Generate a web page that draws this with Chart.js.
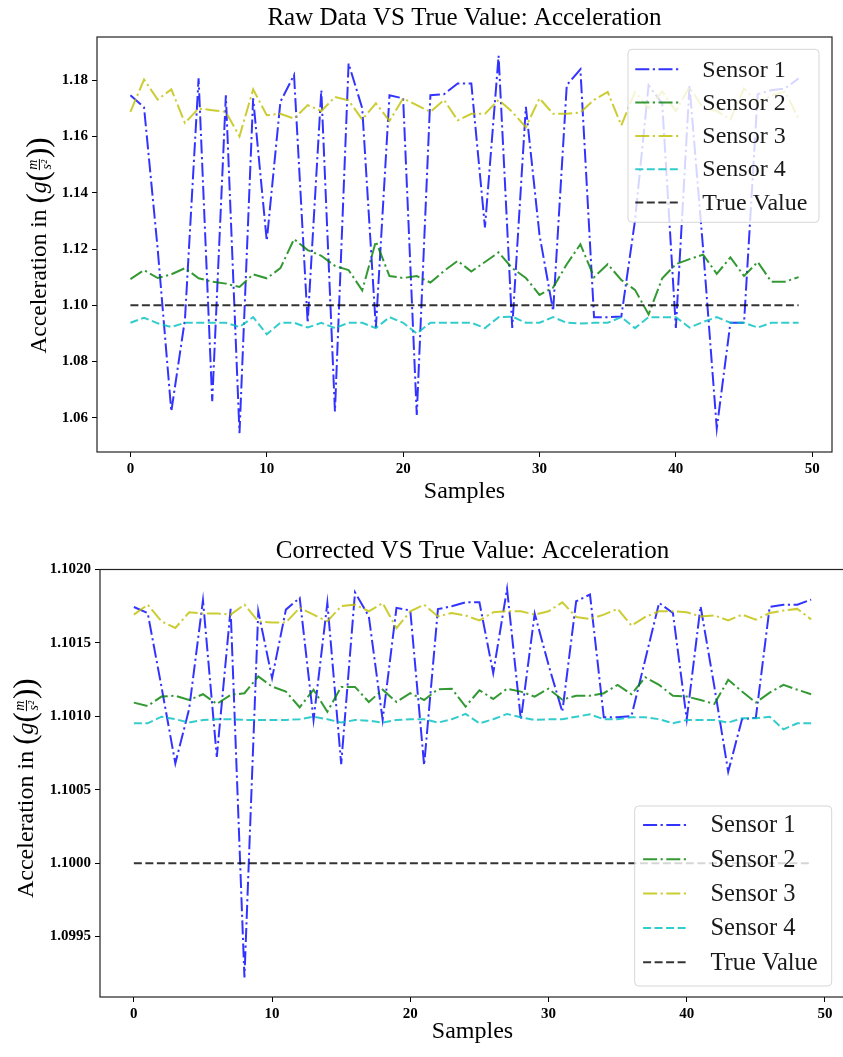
<!DOCTYPE html>
<html>
<head>
<meta charset="utf-8">
<script src="https://cdn.jsdelivr.net/npm/chart.js@4.4.1/dist/chart.umd.min.js"></script>
<style>
  html, body { margin: 0; padding: 0; background: #fff; overflow: hidden; width: 843px; height: 1057px; }
  #raw  { position: absolute; left: 0; top: 0; }
  #corr { position: absolute; left: 0; top: 520px; }
</style>
</head>
<body>
<canvas id="raw" width="843" height="515"></canvas>
<canvas id="corr" width="852" height="537"></canvas>
<script>
// ---- data -------------------------------------------------------------
const samples = [0,1,2,3,4,5,6,7,8,9,10,11,12,13,14,15,16,17,18,19,20,21,22,23,24,
                 25,26,27,28,29,30,31,32,33,34,35,36,37,38,39,40,41,42,43,44,45,46,47,48,49];
const xTicks = [0, 10, 20, 30, 40, 50];
const rawTicks = [1.06, 1.08, 1.10, 1.12, 1.14, 1.16, 1.18];
const corrTicks = [1.0995, 1.1000, 1.1005, 1.1010, 1.1015, 1.1020];
const seriesNames = ['Sensor 1', 'Sensor 2', 'Sensor 3', 'Sensor 4', 'True Value'];
const trueValue = 1.10;

const rawSensor1 = [1.1746, 1.1703, 1.1200, 1.0623, 1.0950, 1.1806, 1.0659, 1.1746, 1.0546, 1.1735,
                    1.1229, 1.1723, 1.1818, 1.0938, 1.1764, 1.0623, 1.1859, 1.1700, 1.0920, 1.1746,
                    1.1735, 1.0611, 1.1746, 1.1750, 1.1788, 1.1788, 1.1277, 1.1886, 1.0920, 1.1705,
                    1.1250, 1.0980, 1.1782, 1.1838, 1.0958, 1.0958, 1.0960, 1.1300, 1.1782, 1.1717,
                    1.0920, 1.1780, 1.1200, 1.0563, 1.0938, 1.0938, 1.1750, 1.1764, 1.1770, 1.1806];
const rawSensor2 = [1.1093, 1.1125, 1.1097, 1.1110, 1.1132, 1.1096, 1.1084, 1.1077, 1.1065, 1.1110,
                    1.1096, 1.1132, 1.1235, 1.1196, 1.1176, 1.1140, 1.1125, 1.1053, 1.1227, 1.1104,
                    1.1097, 1.1104, 1.1081, 1.1122, 1.1158, 1.1120, 1.1154, 1.1188, 1.1132, 1.1097,
                    1.1037, 1.1063, 1.1146, 1.1217, 1.1100, 1.1146, 1.1090, 1.1055, 1.0968, 1.1096,
                    1.1146, 1.1164, 1.1180, 1.1112, 1.1170, 1.1104, 1.1154, 1.1084, 1.1084, 1.1100];
const rawSensor3 = [1.1687, 1.1802, 1.1731, 1.1767, 1.1648, 1.1699, 1.1693, 1.1687, 1.1600, 1.1767,
                    1.1675, 1.1680, 1.1663, 1.1711, 1.1690, 1.1740, 1.1728, 1.1660, 1.1717, 1.1655,
                    1.1735, 1.1711, 1.1687, 1.1730, 1.1657, 1.1680, 1.1680, 1.1730, 1.1687, 1.1633,
                    1.1735, 1.1680, 1.1680, 1.1685, 1.1730, 1.1758, 1.1639, 1.1758, 1.1700, 1.1760,
                    1.1690, 1.1775, 1.1700, 1.1690, 1.1660, 1.1770, 1.1720, 1.1745, 1.1760, 1.1663];
const rawSensor4 = [1.0938, 1.0956, 1.0936, 1.0923, 1.0938, 1.0938, 1.0938, 1.0938, 1.0923, 1.0958,
                    1.0897, 1.0938, 1.0938, 1.0921, 1.0938, 1.0919, 1.0938, 1.0938, 1.0919, 1.0958,
                    1.0938, 1.0900, 1.0938, 1.0938, 1.0938, 1.0938, 1.0919, 1.0958, 1.0960, 1.0938,
                    1.0938, 1.0958, 1.0938, 1.0935, 1.0938, 1.0938, 1.0958, 1.0919, 1.0958, 1.0958,
                    1.0958, 1.0921, 1.0941, 1.0958, 1.0938, 1.0938, 1.0921, 1.0938, 1.0938, 1.0938];

const corrSensor1 = [1.101744, 1.101703, 1.101200, 1.100679, 1.101050, 1.101790, 1.100724, 1.101731, 1.099221, 1.101715,
                     1.101260, 1.101726, 1.101806, 1.100975, 1.101772, 1.100674, 1.101844, 1.101680, 1.100975, 1.101738,
                     1.101720, 1.100667, 1.101730, 1.101749, 1.101776, 1.101776, 1.101294, 1.101867, 1.100975, 1.101699,
                     1.101350, 1.101031, 1.101783, 1.101829, 1.100993, 1.100993, 1.101002, 1.101387, 1.101772, 1.101703,
                     1.100980, 1.101749, 1.101200, 1.100622, 1.100980, 1.100990, 1.101745, 1.101760, 1.101760, 1.101794];
const corrSensor2 = [1.101093, 1.101070, 1.101134, 1.101140, 1.101111, 1.101150, 1.101084, 1.101145, 1.101157, 1.101271,
                     1.101202, 1.101168, 1.101061, 1.101181, 1.101031, 1.101200, 1.101200, 1.101097, 1.101181, 1.101097,
                     1.101157, 1.101111, 1.101184, 1.101188, 1.101066, 1.101177, 1.101118, 1.101188, 1.101168, 1.101134,
                     1.101188, 1.101113, 1.101140, 1.101140, 1.101157, 1.101214, 1.101150, 1.101266, 1.101214, 1.101140,
                     1.101134, 1.101111, 1.101084, 1.101248, 1.101168, 1.101093, 1.101161, 1.101214, 1.101181, 1.101150];
const corrSensor3 = [1.101692, 1.101760, 1.101646, 1.101601, 1.101708, 1.101699, 1.101700, 1.101692, 1.101760, 1.101646,
                     1.101639, 1.101639, 1.101738, 1.101692, 1.101646, 1.101750, 1.101760, 1.101715, 1.101770, 1.101600,
                     1.101715, 1.101760, 1.101680, 1.101703, 1.101686, 1.101653, 1.101708, 1.101715, 1.101715, 1.101692,
                     1.101715, 1.101776, 1.101676, 1.101662, 1.101692, 1.101731, 1.101617, 1.101676, 1.101715, 1.101715,
                     1.101708, 1.101680, 1.101686, 1.101653, 1.101692, 1.101658, 1.101703, 1.101720, 1.101731, 1.101660];
const corrSensor4 = [1.100952, 1.100952, 1.100997, 1.100980, 1.100957, 1.100975, 1.100980, 1.100980, 1.100975, 1.100975,
                     1.100975, 1.100975, 1.100980, 1.100997, 1.100980, 1.100957, 1.100975, 1.100970, 1.100957, 1.100975,
                     1.100980, 1.100980, 1.100957, 1.100980, 1.101016, 1.100952, 1.100980, 1.101016, 1.100993, 1.100975,
                     1.100980, 1.100980, 1.100997, 1.101013, 1.100980, 1.100980, 1.100993, 1.100993, 1.100980, 1.100952,
                     1.100975, 1.100975, 1.100975, 1.100957, 1.100986, 1.100986, 1.100997, 1.100911, 1.100952, 1.100952];

// ---- styling ------------------------------------------------------------
const SERIF = '"Liberation Serif", "Times New Roman", serif';
const lineStyles = [
  { color: 'rgba(0,0,255,0.8)',   dash: [14, 3.5, 2.2, 3.5] },
  { color: 'rgba(0,128,0,0.8)',   dash: [14, 3.5, 2.2, 3.5] },
  { color: 'rgba(191,191,0,0.8)', dash: [14, 3.5, 2.2, 3.5] },
  { color: 'rgba(0,191,191,0.8)', dash: [8, 3.5] },
  { color: 'rgba(0,0,0,0.8)',     dash: [8, 3.5] }
];

// title centred over the plotting area
const axesTitlePlugin = {
  id: 'axesTitle',
  afterDraw(chart, args, o) {
    const { ctx, chartArea: a } = chart;
    ctx.save();
    ctx.font = `${o.size}px ${SERIF}`;
    ctx.fillStyle = '#000';
    ctx.textAlign = 'center';
    ctx.textBaseline = 'middle';
    ctx.fillText(o.text, (a.left + a.right) / 2, o.y);
    ctx.restore();
  }
};

// axes frame on all four sides
const framePlugin = {
  id: 'frame',
  afterDatasetsDraw(chart) {
    const { ctx, chartArea: a } = chart;
    ctx.save();
    ctx.strokeStyle = '#222';
    ctx.lineWidth = 1.2;
    ctx.setLineDash([]);
    ctx.strokeRect(a.left, a.top, a.right - a.left, a.bottom - a.top);
    ctx.restore();
  }
};

// y-axis title with a stacked m / s^2 fraction
const yLabelPlugin = {
  id: 'yLabel',
  afterDraw(chart, args, o) {
    const { ctx, chartArea: a } = chart;
    const s = o.size;
    const cx = a.left - o.offset;
    const cy = (a.top + a.bottom) / 2 + (o.shiftY || 0);
    const fMain = `${s}px ${SERIF}`;
    const fBig = `${Math.round(s * 1.3)}px ${SERIF}`;
    const fIt = `italic ${s}px ${SERIF}`;
    const fSmall = `italic ${Math.round(s * 0.6)}px ${SERIF}`;
    const parts = [
      { t: 'Acceleration in ', f: fMain },
      { t: '(', f: fBig, dy: 0.08 },
      { t: 'g', f: fIt },
      { t: '(', f: fBig, dy: 0.08 },
      { frac: ['m', 's²'], f: fSmall },
      { t: ')', f: fBig, dy: 0.08 },
      { t: ')', f: fBig, dy: 0.08 }
    ];
    ctx.save();
    let total = 0;
    parts.forEach(p => {
      ctx.font = p.f;
      if (p.frac) {
        p.w = Math.max(ctx.measureText(p.frac[0]).width, ctx.measureText(p.frac[1]).width) + 3;
      } else {
        p.w = ctx.measureText(p.t).width;
      }
      total += p.w;
    });
    ctx.translate(cx, cy);
    ctx.rotate(-Math.PI / 2);
    ctx.fillStyle = '#000';
    ctx.textBaseline = 'alphabetic';
    const base = s * 0.33;
    const axis = base - s * 0.27;
    let x = -total / 2;
    parts.forEach(p => {
      ctx.font = p.f;
      if (p.frac) {
        ctx.textAlign = 'center';
        ctx.fillText(p.frac[0], x + p.w / 2, axis - 2.5);
        ctx.fillText(p.frac[1], x + p.w / 2, axis + s * 0.5);
        ctx.fillRect(x + 1, axis - 0.5, p.w - 2, 1);
        ctx.textAlign = 'left';
      } else {
        ctx.textAlign = 'left';
        ctx.fillText(p.t, x, base + (p.dy || 0) * s);
      }
      x += p.w;
    });
    ctx.restore();
  }
};

// boxed legend placed inside the axes
const legendPlugin = {
  id: 'mplLegend',
  afterDraw(chart, args, o) {
    const { ctx, chartArea: a } = chart;
    const x0 = a.right - o.right - o.width;
    const y0 = o.top != null ? a.top + o.top : a.bottom - o.bottom - o.height;
    ctx.save();
    ctx.beginPath();
    ctx.roundRect(x0, y0, o.width, o.height, 4);
    ctx.fillStyle = 'rgba(255,255,255,0.8)';
    ctx.fill();
    ctx.strokeStyle = 'rgba(204,204,204,0.8)';
    ctx.lineWidth = 1;
    ctx.stroke();
    ctx.font = `${o.fontSize}px ${SERIF}`;
    ctx.textBaseline = 'middle';
    ctx.textAlign = 'left';
    chart.data.datasets.forEach((ds, i) => {
      const y = y0 + o.firstRow + i * o.rowGap;
      ctx.beginPath();
      ctx.strokeStyle = ds.borderColor;
      ctx.lineWidth = ds.borderWidth;
      ctx.setLineDash(ds.borderDash || []);
      ctx.moveTo(x0 + o.sampleX, y);
      ctx.lineTo(x0 + o.sampleX + o.sampleLen, y);
      ctx.stroke();
      ctx.setLineDash([]);
      ctx.fillStyle = '#1a1a1a';
      ctx.fillText(ds.label, x0 + o.textX, y + 1);
    });
    ctx.restore();
  }
};

function paddedRange(values, frac) {
  const lo = Math.min(...values), hi = Math.max(...values);
  const m = (hi - lo) * frac;
  return [lo - m, hi + m];
}

function buildChart(id, cfg) {
  const all = cfg.values.flat().concat([cfg.trueValue]);
  const [yMin, yMax] = paddedRange(all, 0.05);
  const [xMin, xMax] = paddedRange(samples, 0.05);
  const series = cfg.values.concat([samples.map(() => cfg.trueValue)]);
  const datasets = series.map((vals, k) => ({
    label: seriesNames[k],
    data: samples.map((x, i) => ({ x, y: vals[i] })),
    borderColor: lineStyles[k].color,
    borderDash: lineStyles[k].dash,
    borderWidth: 2,
    borderCapStyle: 'butt',
    pointRadius: 0,
    tension: 0,
    fill: false,
    order: series.length - k
  }));
  const tickFont = { family: SERIF, size: 15, weight: 'bold' };
  const tickGrid = { display: true, drawOnChartArea: false, drawTicks: true, tickLength: 5, tickColor: '#000', tickWidth: 1 };
  return new Chart(document.getElementById(id), {
    type: 'line',
    data: { datasets },
    plugins: [framePlugin, axesTitlePlugin, yLabelPlugin, legendPlugin],
    options: {
      responsive: false,
      animation: false,
      devicePixelRatio: 1,
      events: [],
      layout: { padding: { left: 0, right: cfg.padRight, top: cfg.padTop, bottom: 0 } },
      scales: {
        x: {
          type: 'linear', min: xMin, max: xMax,
          afterBuildTicks: s => { s.ticks = xTicks.map(v => ({ value: v })); },
          afterFit: s => { s.height = cfg.xAxisHeight; },
          grid: tickGrid,
          border: { display: false },
          ticks: { font: tickFont, color: '#000', padding: 3, maxRotation: 0, autoSkip: false, callback: v => String(v) },
          title: { display: true, text: 'Samples', color: '#000', font: { family: SERIF, size: 24 }, padding: { top: 0, bottom: cfg.xTitlePad } }
        },
        y: {
          type: 'linear', min: yMin, max: yMax,
          afterBuildTicks: s => { s.ticks = cfg.yTicks.map(v => ({ value: v })); },
          afterFit: s => { s.width = cfg.yAxisWidth; },
          grid: tickGrid,
          border: { display: false },
          ticks: { font: tickFont, color: '#000', padding: 4, autoSkip: false, callback: v => v.toFixed(cfg.decimals) }
        }
      },
      plugins: {
        legend: { display: false },
        tooltip: { enabled: false },
        title: { display: false },
        axesTitle: cfg.title,
        yLabel: cfg.yLabel,
        mplLegend: cfg.legend
      }
    }
  });
}

buildChart('raw', {
  title: { text: 'Raw Data VS True Value: Acceleration', y: 18, size: 25 },
  values: [rawSensor1, rawSensor2, rawSensor3, rawSensor4],
  trueValue: trueValue,
  yTicks: rawTicks, decimals: 2,
  padRight: 11, padTop: 37, yAxisWidth: 97, xAxisHeight: 63, xTitlePad: 9,
  yLabel: { size: 23.5, offset: 59, shiftY: 1 },
  legend: { right: 13, top: 12.3, width: 191, height: 173, firstRow: 20, rowGap: 33.3,
            sampleX: 7.3, sampleLen: 43.6, textX: 74.3, fontSize: 24 }
});

buildChart('corr', {
  title: { text: 'Corrected VS True Value: Acceleration', y: 31, size: 25 },
  values: [corrSensor1, corrSensor2, corrSensor3, corrSensor4],
  trueValue: trueValue,
  yTicks: corrTicks, decimals: 4,
  padRight: 7, padTop: 49.5, yAxisWidth: 100, xAxisHeight: 60, xTitlePad: 11,
  yLabel: { size: 24, offset: 75, shiftY: 5 },
  legend: { right: 13.3, bottom: 11, width: 197, height: 180, firstRow: 19, rowGap: 34.3,
            sampleX: 8.4, sampleLen: 44.6, textX: 75.7, fontSize: 24.5 }
});
</script>
</body>
</html>
